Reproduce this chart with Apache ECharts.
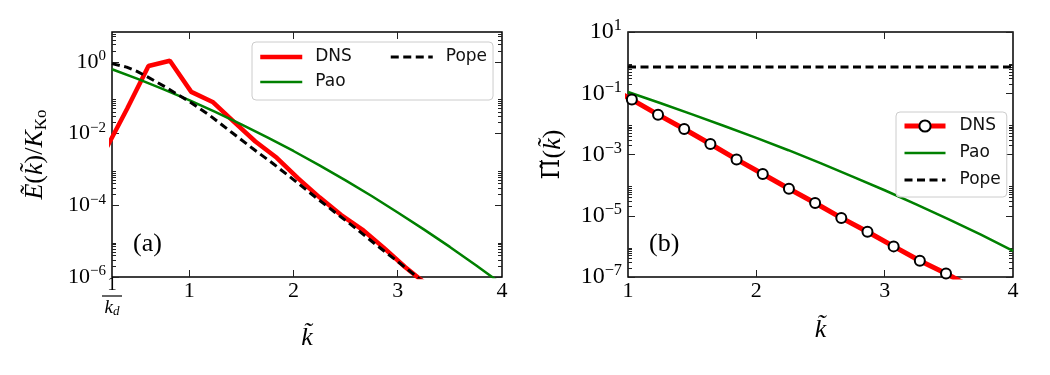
<!DOCTYPE html>
<html>
<head>
<meta charset="utf-8">
<script src="https://cdn.jsdelivr.net/npm/echarts@6.0.0/dist/echarts.min.js"></script>
<style>
html, body { margin: 0; padding: 0; background: #fff; }
#main { width: 1050px; height: 375px; }
</style>
</head>
<body>
<div id="main"></div>
<script>
var myChart = echarts.init(document.getElementById('main'));

// panel (a): E(k)/K_Ko against k
var kDnsA = [0.2, 0.405, 0.61, 0.815, 1.02, 1.225, 1.43, 1.635, 1.84, 2.045, 2.25, 2.455, 2.66, 2.865, 3.07, 3.275];
var eDnsA = [3.6e-3, 4.9e-2, 0.76, 1.07, 0.145, 0.076, 2.1e-2, 6.0e-3, 2.1e-3, 5.6e-4, 1.66e-4, 5.4e-5, 2.1e-5, 6.6e-6, 1.9e-6, 6.3e-7];
var kPaoA = [0.26, 0.5, 0.75, 1.0, 1.25, 1.5, 1.75, 2.0, 2.25, 2.5, 2.75, 3.0, 3.25, 3.5, 3.75, 4.0];
var ePaoA = [0.62, 0.338, 0.173, 0.085, 0.0401, 0.0181, 7.85e-3, 3.26e-3, 1.30e-3, 4.94e-4, 1.81e-4, 6.3e-5, 2.13e-5, 6.9e-6, 2.13e-6, 6.3e-7];
var kPopeA = [0.26, 0.4, 0.5, 0.6, 0.7, 0.8, 0.9, 1.0, 1.2, 1.4, 1.6, 1.8, 2.0, 2.2, 2.4, 2.6, 2.8, 3.0, 3.2, 3.4];
var ePopeA = [0.89, 0.71, 0.54, 0.38, 0.26, 0.178, 0.117, 0.079, 0.0316, 0.0112, 4.0e-3, 1.48e-3, 5.2e-4, 1.78e-4, 6.3e-5, 2.24e-5, 7.6e-6, 2.7e-6, 9.3e-7, 3.2e-7];
var xMinA = 0.26;
var xTicksA = [1, 2, 3, 4];
var yDecadesA = [-6, -4, -2, 0];

// panel (b): Pi(k) against k
var kDnsB = [0.826, 1.03, 1.234, 1.438, 1.642, 1.846, 2.05, 2.254, 2.458, 2.662, 2.866, 3.07, 3.274, 3.478, 3.682];
var piDnsB = [0.18, 0.062, 0.020, 6.8e-3, 2.2e-3, 6.9e-4, 2.3e-4, 7.6e-5, 2.6e-5, 8.5e-6, 3.0e-6, 1.0e-6, 3.4e-7, 1.3e-7, 4.5e-8];
var kPaoB = [1.0, 1.25, 1.5, 1.75, 2.0, 2.25, 2.5, 2.75, 3.0, 3.25, 3.5, 3.75, 4.0];
var piPaoB = [0.11, 0.048, 0.0204, 8.5e-3, 3.5e-3, 1.38e-3, 5.2e-4, 1.9e-4, 6.8e-5, 2.3e-5, 7.6e-6, 2.4e-6, 7.1e-7];
var kPopeB = [1, 4];
var piPopeB = [0.72, 0.72];
var xMinB = 1;
var xTicksB = [1, 2, 3, 4];
var yDecadesB = [-7, -5, -3, -1, 1];

var serif = 'Liberation Serif';
var sans = 'DejaVu Sans';
var tickLine = { color: '#222', width: 1 };

function pairs(k, v) {
    return k.map(function (x, i) { return [x, Math.log10(v[i])]; });
}

function minorTicks(decades, top) {
    var out = [];
    decades.forEach(function (n) {
        for (var m = 2; m <= 9; m++) {
            var t = n + Math.log10(m);
            if (t < top) out.push(t);
        }
    });
    return out;
}

function expLabel(v) {
    var n = Math.round(v);
    return '{b|10}{s|' + (n < 0 ? '\u2212' + (-n) : n) + '}';
}

var nameRich = {
    i: { fontFamily: serif, fontStyle: 'italic', fontSize: 26, lineHeight: 30, color: '#000' },
    r: { fontFamily: serif, fontSize: 26, lineHeight: 30, color: '#000' },
    p: { fontFamily: 'DejaVu Serif', fontSize: 24, lineHeight: 30, color: '#000' },
    s: { fontFamily: serif, fontSize: 17, lineHeight: 17, verticalAlign: 'bottom', color: '#000' }
};

var xRich = {
    t: { fontFamily: serif, fontSize: 22, lineHeight: 24, padding: [4, 0, 0, 0], color: '#000' },
    n: { fontFamily: serif, fontSize: 19, lineHeight: 17, color: '#000' },
    bar: { width: 20, height: 1.2, lineHeight: 4, fontSize: 1, backgroundColor: '#000' },
    k: { fontFamily: serif, fontStyle: 'italic', fontSize: 19, lineHeight: 20, color: '#000' },
    d: { fontFamily: serif, fontStyle: 'italic', fontSize: 13, lineHeight: 13, verticalAlign: 'bottom', color: '#000' }
};

function xAxes(g, min, ticks, nameGap, withFraction) {
    var max = ticks[ticks.length - 1];
    var inner = ticks.filter(function (v) { return v > min && v < max; });
    var base = {
        gridIndex: g, type: 'value', min: min, max: max,
        axisLine: { show: false, onZero: false }, splitLine: { show: false }
    };
    var list = [
        Object.assign({}, base, {
            position: 'bottom',
            axisTick: { inside: true, length: 7, lineStyle: tickLine, customValues: inner },
            axisLabel: {
                customValues: ticks, margin: 0, rich: xRich, hideOverlap: false,
                showMinLabel: true, showMaxLabel: true,
                formatter: function (v) { return '{t|' + v + '}'; }
            },
            name: '{i|k\u0303}', nameLocation: 'middle', nameGap: nameGap,
            nameTextStyle: { rich: nameRich }
        }),
        Object.assign({}, base, {
            position: 'top',
            axisTick: { inside: true, length: 7, lineStyle: tickLine, customValues: inner },
            axisLabel: { show: false }
        })
    ];
    if (withFraction) {
        // the 1/k_d label at the left end of panel (a)
        list.push(Object.assign({}, base, {
            position: 'bottom',
            axisTick: { show: false },
            axisLabel: {
                customValues: [min], margin: 0, rich: xRich, hideOverlap: false, showMinLabel: true,
                formatter: function () { return '{n|1}\n{bar| }\n{k|k}{d|d}'; }
            }
        }));
    }
    return list;
}

function yAxes(g, min, max, decades, fs, name, nameGap) {
    var minor = minorTicks(decades, max);
    var base = {
        gridIndex: g, type: 'value', min: min, max: max,
        axisLine: { show: false, onZero: false }, splitLine: { show: false }
    };
    return [
        Object.assign({}, base, {
            position: 'left',
            axisTick: { inside: true, length: 7, lineStyle: tickLine, customValues: decades },
            axisLabel: {
                customValues: decades, formatter: expLabel, margin: 6, hideOverlap: false,
                showMinLabel: true, showMaxLabel: true,
                rich: {
                    b: { fontFamily: serif, fontSize: fs, lineHeight: fs + 4, color: '#000' },
                    s: { fontFamily: serif, fontSize: fs * 0.68, lineHeight: fs * 0.68, verticalAlign: 'top', color: '#000' }
                }
            },
            name: name, nameLocation: 'middle', nameGap: nameGap,
            nameTextStyle: { rich: nameRich }
        }),
        Object.assign({}, base, {
            position: 'left',
            axisTick: { inside: true, length: 4, lineStyle: tickLine, customValues: minor },
            axisLabel: { show: false }
        }),
        Object.assign({}, base, {
            position: 'right',
            axisTick: { inside: true, length: 7, lineStyle: tickLine, customValues: decades },
            axisLabel: { show: false }
        }),
        Object.assign({}, base, {
            position: 'right',
            axisTick: { inside: true, length: 4, lineStyle: tickLine, customValues: minor },
            axisLabel: { show: false }
        })
    ];
}

var legendText = { fontFamily: sans, fontSize: 17, lineHeight: 18, color: '#111', padding: [0, 0, 0, 8] };
var noMarker = { opacity: 0 };

var option = {
    animation: false,
    textStyle: { fontFamily: serif },
    title: [
        { text: '(a)', left: 128, top: 226, textStyle: { fontFamily: serif, fontSize: 26, fontWeight: 'normal', color: '#000' } },
        { text: '(b)', left: 644, top: 226, textStyle: { fontFamily: serif, fontSize: 26, fontWeight: 'normal', color: '#000' } }
    ],
    grid: [
        { left: 112, top: 32, width: 390, height: 245, show: true, borderColor: '#000', borderWidth: 1.5, backgroundColor: '#fff' },
        { left: 628, top: 32, width: 385, height: 245, show: true, borderColor: '#000', borderWidth: 1.5, backgroundColor: '#fff' }
    ],
    legend: [
        {
            left: 252, top: 42, width: 232, orient: 'horizontal',
            itemWidth: 42, itemHeight: 14, itemGap: 7,
            padding: [6, 6, 9, 6],
            backgroundColor: 'rgba(255,255,255,0.8)', borderColor: '#ccc', borderWidth: 1, borderRadius: 4,
            textStyle: legendText,
            itemStyle: noMarker,
            data: [
                { name: 'DNS', textStyle: { width: 67 }, lineStyle: { width: 4.5 } },
                { name: 'Pope', lineStyle: { width: 3 } },
                { name: 'Pao', textStyle: { width: 67 }, lineStyle: { width: 2.5 } }
            ]
        },
        {
            left: 896, top: 112, orient: 'vertical',
            itemWidth: 41, itemHeight: 14, itemGap: 9,
            padding: [5, 6, 8, 6],
            backgroundColor: 'rgba(255,255,255,0.8)', borderColor: '#ccc', borderWidth: 1, borderRadius: 4,
            textStyle: Object.assign({}, legendText, { padding: [0, 0, 0, 9] }),
            formatter: function (n) { return n.trim(); },
            data: [
                { name: 'DNS ', lineStyle: { width: 5 } },
                { name: 'Pao ', itemStyle: noMarker, lineStyle: { width: 2.5 } },
                { name: 'Pope ', itemStyle: noMarker, lineStyle: { width: 3 } }
            ]
        }
    ],
    xAxis: xAxes(0, xMinA, xTicksA, 46, true).concat(xAxes(1, xMinB, xTicksB, 38, false)),
    yAxis: yAxes(0, -6, 0.83, yDecadesA, 22,
            '{i|\u1EBC}{r|(}{i|k\u0303}{r|)/}{i|K}{s|Ko}', 62)
        .concat(yAxes(1, -7, 1, yDecadesB, 24,
            '{p|\u03A0\u0303}{r|(}{i|k\u0303}{r|)}', 60)),
    series: [
        {
            name: 'DNS', type: 'line', xAxisIndex: 0, yAxisIndex: 0, symbol: 'none',
            lineStyle: { color: '#ff0000', width: 4.5 }, itemStyle: { color: '#ff0000' },
            data: pairs(kDnsA, eDnsA)
        },
        {
            name: 'Pao', type: 'line', xAxisIndex: 0, yAxisIndex: 0, symbol: 'none',
            lineStyle: { color: '#008000', width: 2.5 }, itemStyle: { color: '#008000' },
            data: pairs(kPaoA, ePaoA)
        },
        {
            name: 'Pope', type: 'line', xAxisIndex: 0, yAxisIndex: 0, symbol: 'none',
            lineStyle: { color: '#000', width: 3, type: [8, 4.5] }, itemStyle: { color: '#000' },
            data: pairs(kPopeA, ePopeA)
        },
        {
            name: 'DNS ', type: 'line', xAxisIndex: 3, yAxisIndex: 4,
            symbol: 'circle', symbolSize: 10, showAllSymbol: true,
            lineStyle: { color: '#ff0000', width: 5 },
            itemStyle: { color: '#fff', borderColor: '#000', borderWidth: 2 },
            z: 3,
            data: pairs(kDnsB, piDnsB)
        },
        {
            name: 'Pao ', type: 'line', xAxisIndex: 3, yAxisIndex: 4, symbol: 'none',
            lineStyle: { color: '#008000', width: 2.5 }, itemStyle: { color: '#008000' },
            data: pairs(kPaoB, piPaoB)
        },
        {
            name: 'Pope ', type: 'line', xAxisIndex: 3, yAxisIndex: 4, symbol: 'none',
            lineStyle: { color: '#000', width: 3, type: [8, 4.5] }, itemStyle: { color: '#000' },
            data: pairs(kPopeB, piPopeB)
        }
    ]
};

myChart.setOption(option);
</script>
</body>
</html>
